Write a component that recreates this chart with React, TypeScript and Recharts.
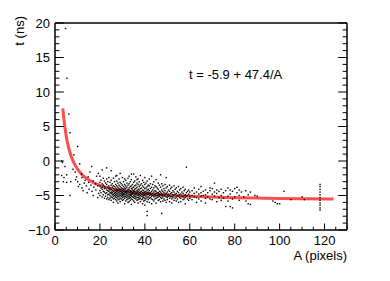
import { ComposedChart, Line, Scatter, XAxis, YAxis } from "recharts";

// hits with small amplitude: [A, t]
const lowAmpHits: [number, number][] = [
  [3, 0.0], [3, -2.1], [3.3, -0.2], [3.7, -3.0], [4.4, -0.8], [4.7, 19.2], [4, -2.4],
  [5.3, 12.0], [5.2, -2.0], [5.2, -3.1], [6.2, 6.8], [6.7, 4.1], [6.7, -5.0], [7, -3.0],
  [8.4, 0.9], [8, -1.2], [9, -1.6], [9.2, -2.7], [10.1, 2.1], [9.6, -2.3], [10.1, -3.0],
  [10.4, -3.7], [11, -0.4], [11.8, -1.9], [11, -3.4], [12, -2.4], [12, -3.9], [12.5, -4.3],
  [13, -3.2], [13.4, -2.8], [14.8, -2.3], [14, -3.6], [14.3, -4.6], [15, -3.1], [15.2, -4.1],
  [15.6, -1.6], [16.3, -0.8], [16, -3.5], [16.5, -4.4], [17, -2.9], [17.3, -3.8], [17, -5.0],
  [18, -3.3], [18.2, -4.2], [18.5, -2.2], [19.3, -1.8], [19, -3.6], [19.4, -4.7], [19, -5.3],
];

// dense band: [A, t values]
const bandHits: [number, number[]][] = [
  [20, [-2.2, -3.1, -3.6, -4.3, -5.0]],
  [20.5, [-2.8, -3.9, -4.6]],
  [21, [-1.3, -3.3, -3.8, -4.1, -5.2]],
  [21.5, [-2.5, -3.5, -4.4, -4.9]],
  [22, [-2.9, -3.7, -4.0, -4.5, -5.4]],
  [22.5, [-3.2, -3.9, -4.7, -5.1]],
  [23, [-1.0, -2.6, -3.4, -4.2, -4.6, -5.5]],
  [23.5, [-3.0, -3.8, -4.3, -4.9, -5.3]],
  [24, [-2.4, -3.6, -4.0, -4.4, -4.8, -5.6]],
  [24.5, [-3.1, -3.9, -4.2, -4.6, -5.0, -5.4]],
  [25, [-1.4, -2.8, -3.5, -4.1, -4.5, -4.7, -5.2, -5.7]],
  [25.5, [-3.3, -3.8, -4.3, -4.6, -4.9, -5.3]],
  [26, [-2.5, -3.6, -4.0, -4.4, -4.8, -5.1, -5.5, -6.0]],
  [26.5, [-3.0, -3.7, -4.2, -4.5, -4.7, -5.0, -5.4]],
  [27, [-2.2, -3.4, -3.9, -4.3, -4.6, -4.9, -5.2, -5.6]],
  [27.5, [-2.1, -2.9, -3.6, -4.1, -4.4, -4.7, -5.0, -5.3, -5.8]],
  [28, [-3.2, -3.8, -4.2, -4.5, -4.8, -5.1, -5.5, -6.1]],
  [28.5, [-2.6, -3.5, -4.0, -4.3, -4.6, -4.9, -5.2, -5.6]],
  [29, [-1.8, -3.1, -3.7, -4.1, -4.4, -4.7, -5.0, -5.4, -5.9]],
  [29.5, [-3.3, -3.9, -4.2, -4.5, -4.8, -5.1, -5.5]],
  [30, [-2.4, -3.5, -4.0, -4.3, -4.6, -4.8, -5.0, -5.3, -5.7]],
  [30.5, [-3.0, -3.7, -4.1, -4.4, -4.7, -4.9, -5.2, -5.6]],
  [31, [-2.6, -3.4, -3.9, -4.2, -4.5, -4.8, -5.1, -5.4, -6.2]],
  [31.5, [-2.8, -3.6, -4.0, -4.4, -4.6, -4.9, -5.2, -5.8]],
  [32, [-3.2, -3.8, -4.3, -4.5, -4.7, -5.0, -5.3, -5.6]],
  [32.5, [-2.5, -3.5, -4.1, -4.4, -4.8, -5.1, -5.5, -6.0]],
  [33, [-2.2, -3.3, -3.9, -4.2, -4.6, -4.9, -5.2, -5.4, -5.9]],
  [33.5, [-3.0, -3.7, -4.3, -4.5, -4.8, -5.0, -5.3, -5.7]],
  [34, [-1.9, -2.7, -3.6, -4.0, -4.4, -4.7, -4.9, -5.1, -5.5, -6.3]],
  [34.5, [-3.4, -3.9, -4.2, -4.6, -4.8, -5.2, -5.6]],
  [35, [-1.9, -3.1, -3.8, -4.3, -4.5, -4.7, -5.0, -5.3, -5.8]],
  [35.5, [-2.9, -3.6, -4.1, -4.4, -4.8, -5.1, -5.4, -6.0]],
  [36, [-2.3, -3.5, -4.0, -4.5, -4.7, -4.9, -5.2, -5.5]],
  [36.5, [-2.7, -3.2, -3.8, -4.3, -4.6, -4.9, -5.3, -5.7]],
  [37, [-2.6, -3.4, -4.1, -4.4, -4.8, -5.0, -5.3, -5.6, -6.1]],
  [37.5, [-3.0, -3.7, -4.2, -4.6, -4.9, -5.2, -5.5]],
  [38, [-2.1, -3.5, -4.0, -4.5, -4.7, -5.0, -5.4, -5.9]],
  [38.5, [-3.3, -3.9, -4.4, -4.8, -5.1, -5.6]],
  [39, [-2.8, -3.6, -4.2, -4.6, -4.9, -5.2, -5.5, -6.2]],
  [39.5, [-3.1, -3.8, -4.3, -4.7, -5.0, -5.3, -5.8]],
  [40, [-2.4, -3.4, -4.0, -4.5, -4.8, -5.0, -5.4, -5.7, -6.4]],
  [40.5, [-3.2, -3.9, -4.4, -4.7, -5.1, -5.5]],
  [41, [-2.9, -3.7, -4.2, -4.6, -4.9, -5.3, -5.9, -7.3, -7.9]],
  [41.5, [-3.5, -4.1, -4.5, -4.8, -5.2, -5.6]],
  [42, [-2.6, -3.6, -4.3, -4.7, -5.0, -5.4, -6.0]],
  [42.5, [-3.3, -4.0, -4.6, -4.9, -5.3]],
  [43, [-2.2, -3.8, -4.4, -4.8, -5.1, -5.5, -6.2]],
  [43.5, [-3.4, -4.2, -4.7, -5.0, -5.6]],
  [44, [-3.0, -3.9, -4.5, -4.9, -5.2, -5.8]],
  [44.5, [-3.6, -4.3, -4.8, -5.1, -5.5]],
  [45, [-2.7, -3.7, -4.4, -4.7, -5.0, -5.4, -6.1]],
  [45.5, [-3.9, -4.6, -5.0, -5.3]],
  [46, [-3.2, -4.1, -4.6, -4.9, -5.2, -5.7]],
  [46.5, [-3.5, -4.4, -4.8, -5.1, -5.6]],
  [47, [-2.0, -3.8, -4.5, -4.9, -5.3, -5.9]],
  [47.5, [-3.3, -4.2, -4.7, -5.0, -5.4, -7.6]],
  [48, [-3.6, -4.4, -4.9, -5.2, -5.8]],
  [48.5, [-4.0, -4.6, -5.0, -5.5]],
  [49, [-3.4, -4.3, -4.8, -5.1, -5.7]],
  [49.5, [-2.4, -3.9, -4.7, -5.2, -6.0]],
  [50, [-3.7, -4.5, -4.9, -5.3, -5.6]],
  [50.5, [-4.2, -4.8, -5.1]],
  [51, [-3.5, -4.4, -5.0, -5.4, -5.9]],
  [51.5, [-4.0, -4.7, -5.2]],
  [52, [-3.8, -4.6, -5.1, -5.5, -6.1]],
  [52.5, [-4.3, -4.9, -5.3]],
  [53, [-3.6, -4.5, -5.0, -5.7]],
  [53.5, [-4.1, -4.8, -5.4]],
  [54, [-3.9, -4.7, -5.2, -5.8]],
  [54.5, [-4.4, -5.0, -5.5]],
  [55, [-3.7, -4.6, -5.1, -6.0]],
  [55.5, [-4.2, -4.9, -5.3]],
  [56, [-4.0, -4.8, -5.4, -5.9]],
  [56.5, [-4.5, -5.1]],
  [57, [-3.8, -4.7, -5.2, -5.6]],
  [57.5, [-4.3, -5.0, -5.5]],
  [58, [-4.1, -4.9, -5.3, -6.2]],
  [58.5, [-0.9, -4.6, -5.1]],
  [59, [-4.4, -5.0, -5.5]],
  [59.5, [-4.2, -4.8, -5.7]],
  [60, [-4.5, -5.1, -5.4]],
];

// sparse tail: [A, t values]
const tailHits: [number, number[]][] = [
  [61, [-4.3, -5.0, -5.6]], [62, [-3.9, -4.7, -5.2]], [63, [-4.5, -5.3, -6.0]],
  [64, [-4.1, -4.8, -5.5]], [65, [-3.7, -4.6, -5.1, -5.8]], [66, [-4.4, -5.0]],
  [67, [-4.2, -4.9, -5.4, -6.1]], [68, [-4.6, -5.2]], [69, [-3.9, -4.3, -5.5]],
  [70, [-4.0, -4.8, -5.6]], [71, [-3.2, -4.5, -5.1]], [72, [-4.2, -4.7, -5.9]],
  [73, [-4.4, -5.3]], [74, [-4.1, -5.0, -5.7]], [75, [-4.6, -5.4]], [76, [-4.3, -6.6]],
  [77, [-3.9, -5.1, -5.8]], [78, [-4.2, -4.8, -6.6]], [79, [-4.4, -5.5, -6.8]],
  [80, [-4.0, -5.2]], [81, [-3.8, -4.6]], [82, [-4.2, -5.0, -5.7]], [83, [-4.5]],
  [84, [-5.2]], [85, [-4.3, -5.8]], [86, [-4.9, -6.2]], [87, [-4.5, -6.3]],
  [89, [-5.0]], [90, [-5.1]], [97, [-5.8]], [98, [-6.0]], [99, [-6.2]], [100, [-6.2]],
  [102, [-4.4]], [105, [-5.6]], [110, [-5.2]], [111, [-5.6]],
];

// saturated amplitude column
const saturatedA = 118;
const saturatedT = [-3.4, -3.7, -4.1, -4.5, -4.9, -5.3, -5.7, -6.1, -6.4, -6.8, -7.1];

// fit t = -5.9 + 47.4/A, sampled
const fitA = [3.5, 4, 5, 6, 7, 8, 9, 10, 12, 14, 16, 18, 20, 25, 30, 35, 40, 50, 60, 70, 80, 90, 100, 110, 124];
const fitT = [7.64, 5.95, 3.58, 2.0, 0.87, 0.03, -0.63, -1.16, -1.95, -2.51, -2.94, -3.27, -3.53, -4.0, -4.32, -4.55, -4.72, -4.95, -5.11, -5.22, -5.31, -5.37, -5.43, -5.47, -5.52];

const xTicks = [0, 5, 10, 15, 20, 25, 30, 35, 40, 45, 50, 55, 60, 65, 70, 75, 80, 85, 90, 95, 100, 105, 110, 115, 120, 125, 130];
const yTicks = [-10, -9, -8, -7, -6, -5, -4, -3, -2, -1, 0, 1, 2, 3, 4, 5, 6, 7, 8, 9, 10, 11, 12, 13, 14, 15, 16, 17, 18, 19, 20];

const points = [
  ...lowAmpHits.map(([a, t]) => ({ a, t })),
  ...[...bandHits, ...tailHits].flatMap(([a, ts]) => ts.map((t) => ({ a, t }))),
  ...saturatedT.map((t) => ({ a: saturatedA, t })),
];
const fitData = fitA.map((a, i) => ({ a, t: fitT[i] }));

const FONT = "'Liberation Sans', Arial, Helvetica, sans-serif";
const fmt = (v: number) => String(v).replace("-", "\u2212");

const xMajor = (v: number) => v % 20 === 0 && v <= 120;
const yMajor = (v: number) => v % 5 === 0;

const BottomTick = ({ x, y, payload }: any) => (
  <g>
    <line x1={x} x2={x} y1={y} y2={y - (xMajor(payload.value) ? 6.5 : 3.2)} stroke="#000" />
    {xMajor(payload.value) && (
      <text x={x} y={y + 15} textAnchor="middle" fontSize={13} fontFamily={FONT} fill="#000">
        {fmt(payload.value)}
      </text>
    )}
  </g>
);

const TopTick = ({ x, y, payload }: any) => (
  <line x1={x} x2={x} y1={y} y2={y + (xMajor(payload.value) ? 6.5 : 3.2)} stroke="#000" />
);

const LeftTick = ({ x, y, payload }: any) => (
  <g>
    <line x1={x} x2={x + (yMajor(payload.value) ? 8.8 : 4.4)} y1={y} y2={y} stroke="#000" />
    {yMajor(payload.value) && (
      <text x={x - 5} y={y} dy="0.36em" textAnchor="end" fontSize={13} fontFamily={FONT} fill="#000">
        {fmt(payload.value)}
      </text>
    )}
  </g>
);

const RightTick = ({ x, y, payload }: any) => (
  <line x1={x} x2={x - (yMajor(payload.value) ? 8.8 : 4.4)} y1={y} y2={y} stroke="#000" />
);

const Dot = (p: any) => <rect x={p.cx - 0.7} y={p.cy - 0.7} width={1.4} height={1.4} fill="#000" />;

const frame = { stroke: "#000", strokeWidth: 1.5 };

export default function App() {
  return (
    <div style={{ width: 390, height: 281, background: "#fff", position: "relative" }}>
      <style>{"body{margin:0}"}</style>
      <ComposedChart width={390} height={281} margin={{ top: 22, right: 42, bottom: 50, left: 54 }}>
        <XAxis
          type="number"
          dataKey="a"
          domain={[0, 130]}
          ticks={xTicks}
          interval={0}
          allowDataOverflow
          height={1}
          tickSize={0}
          tickMargin={0}
          tickLine={false}
          tick={<BottomTick />}
          axisLine={frame}
        />
        <XAxis
          xAxisId="top"
          orientation="top"
          type="number"
          domain={[0, 130]}
          ticks={xTicks}
          interval={0}
          allowDataOverflow
          height={1}
          tickSize={0}
          tickMargin={0}
          tickLine={false}
          tick={<TopTick />}
          axisLine={frame}
        />
        <YAxis
          type="number"
          dataKey="t"
          domain={[-10, 20]}
          ticks={yTicks}
          interval={0}
          allowDataOverflow
          width={1}
          tickSize={0}
          tickMargin={0}
          tickLine={false}
          tick={<LeftTick />}
          axisLine={frame}
        />
        <YAxis
          yAxisId="right"
          orientation="right"
          type="number"
          domain={[-10, 20]}
          ticks={yTicks}
          interval={0}
          allowDataOverflow
          width={1}
          tickSize={0}
          tickMargin={0}
          tickLine={false}
          tick={<RightTick />}
          axisLine={frame}
        />
        <Scatter data={points} dataKey="t" shape={Dot} isAnimationActive={false} />
        <Line
          data={fitData}
          dataKey="t"
          type="monotone"
          stroke="#ff4d4d"
          strokeWidth={3}
          dot={false}
          isAnimationActive={false}
        />
      </ComposedChart>
      <svg width={390} height={281} style={{ position: "absolute", left: 0, top: 0, pointerEvents: "none" }}>
        <text x={189} y={79} fontSize={13} fontFamily={FONT} fill="#000">
          t = -5.9 + 47.4/A
        </text>
        <text x={347} y={260} textAnchor="end" fontSize={13} fontFamily={FONT} fill="#000">
          A (pixels)
        </text>
        <text
          x={24}
          y={16}
          transform="rotate(-90 24 16)"
          textAnchor="end"
          fontSize={13}
          fontFamily={FONT}
          fill="#000"
        >
          t (ns)
        </text>
      </svg>
    </div>
  );
}
